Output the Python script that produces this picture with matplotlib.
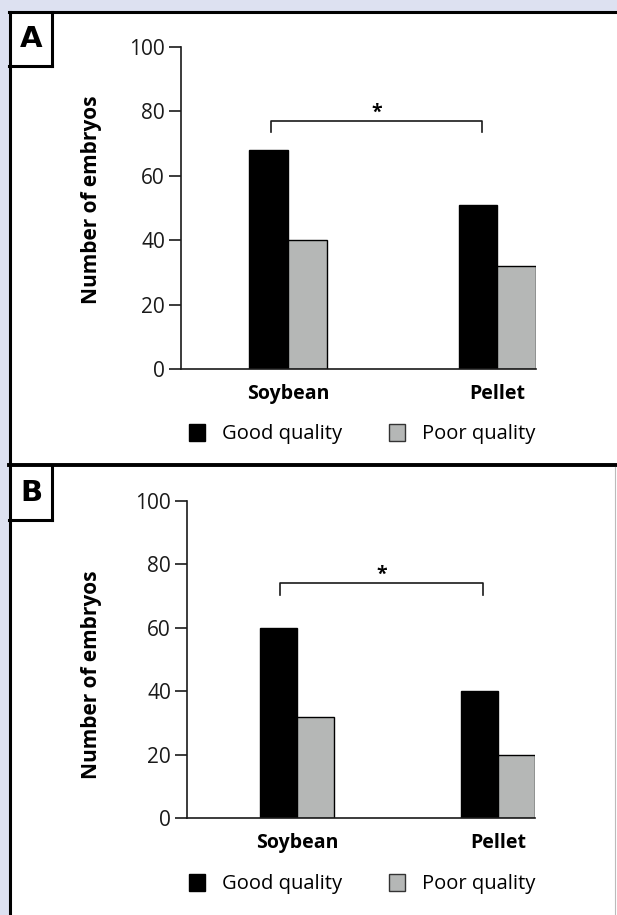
import matplotlib
matplotlib.use("Agg")
import matplotlib.pyplot as plt
from matplotlib.patches import Rectangle, Patch
from matplotlib.lines import Line2D

# values
groups = ["Soybean", "Pellet"]
good_a = [68, 51]
poor_a = [40, 32]
good_b = [60, 40]
poor_b = [32, 20]
yticks = [0, 20, 40, 60, 80, 100]

W, H = 617, 915
plt.rcParams["font.family"] = ["Open Sans", "DejaVu Sans"]

fig = plt.figure(figsize=(W / 100, H / 100), dpi=100)
fig.patch.set_facecolor("#dde1f1")


def fx(px):
    return px / W


def fy(py):
    return 1 - py / H


def hline(y, x0, x1, lw=2.2, color="black"):
    fig.add_artist(Line2D([fx(x0), fx(x1)], [fy(y), fy(y)], lw=lw, color=color,
                          transform=fig.transFigure, solid_capstyle="projecting"))


def vline(x, y0, y1, lw=2.2, color="black"):
    fig.add_artist(Line2D([fx(x), fx(x)], [fy(y0), fy(y1)], lw=lw, color=color,
                          transform=fig.transFigure, solid_capstyle="projecting"))


# white panels and frame lines
fig.add_artist(Rectangle((fx(10), 0), 1, fy(12), facecolor="white",
                         edgecolor="none", transform=fig.transFigure, zorder=-5))
hline(12, 9, 620)
vline(10, 12, 920)
hline(465.5, 9, 620, lw=2.8)
vline(615, 467, 920, lw=0.8, color="#bbbbbb")

# panel letter boxes
for letter, top in [("A", 12), ("B", 466)]:
    hline(top + 54, 9, 52)
    vline(52, top, top + 54)
    fig.text(fx(31), fy(top + 27), letter, fontsize=21, fontweight="bold",
             ha="center", va="center", family="DejaVu Sans")


def panel(good, poor, left, right, top, bottom, xmin, br_y, br_tick, lab_y, leg_y):
    ax = fig.add_axes([fx(left), fy(bottom), fx(right) - fx(left), fy(top) - fy(bottom)])
    w = 0.185
    xs = list(range(len(groups)))
    ax.bar([x - w / 2 for x in xs], good, w, color="black", edgecolor="black", lw=1.0)
    ax.bar([x + w / 2 for x in xs], poor, w, color="#b5b7b6", edgecolor="black", lw=1.0)
    ax.set_xlim(xmin, 1 + w)
    ax.set_ylim(0, 100)
    ax.set_yticks(yticks)
    ax.set_xticks(xs)
    ax.set_xticklabels(groups, fontweight="bold", fontsize=14)
    ax.tick_params(axis="x", length=0, pad=11)
    ax.tick_params(axis="y", length=8.5, width=1.2, pad=3, labelsize=15, colors="#1a1a1a")
    for s in ["top", "right"]:
        ax.spines[s].set_visible(False)
    for s in ["left", "bottom"]:
        ax.spines[s].set_linewidth(1.2)
        ax.spines[s].set_color("#1a1a1a")
    ax.patch.set_alpha(0)
    # significance bracket between the good-quality bars
    x0, x1 = xs[0] - w / 2 + 0.01, xs[1] - w / 2 + 0.02
    ax.plot([x0, x0, x1, x1], [br_tick, br_y, br_y, br_tick], color="#1a1a1a", lw=1.2,
            clip_on=False)
    ax.text((x0 + x1) / 2, br_y + 2.6, "*", ha="center", va="center", fontsize=14,
            fontweight="bold")
    fig.text(fx(92), fy(lab_y), "Number of embryos", rotation=90, ha="center",
             va="center", fontsize=15, fontweight="bold")
    handles = [Patch(facecolor="black", edgecolor="black", label="Good quality"),
               Patch(facecolor="#b5b7b6", edgecolor="#333333", label="Poor quality")]
    fig.legend(handles=handles, loc="center", bbox_to_anchor=(fx(362), fy(leg_y)),
               ncol=2, frameon=False, fontsize=14.5, handlelength=0.8,
               handleheight=0.95, handletextpad=0.85, columnspacing=2.3)
    return ax


panel(good_a, poor_a, 181, 536, 47, 369, -0.512, 77, 73.5, 200, 434)
panel(good_b, poor_b, 187, 535, 501, 818, -0.547, 74, 70.5, 675, 884)

fig.savefig("out.png", dpi=100, facecolor=fig.get_facecolor())
